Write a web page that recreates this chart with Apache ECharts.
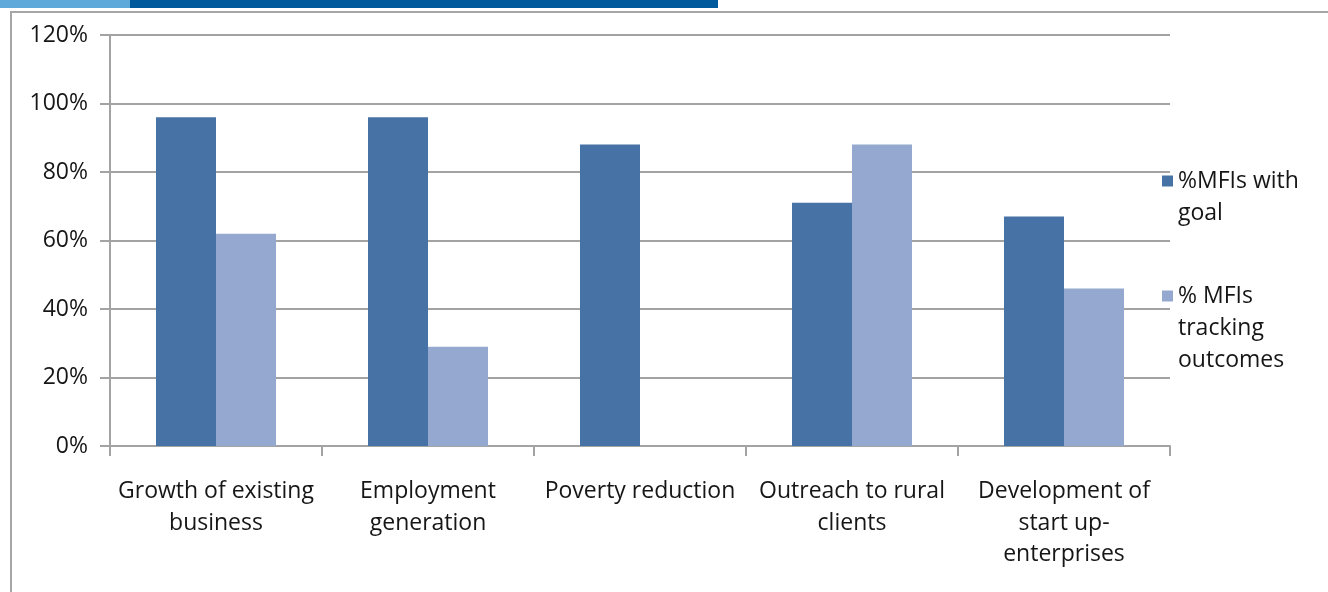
<!DOCTYPE html>
<html>
<head>
<meta charset="utf-8">
<script src="https://cdn.jsdelivr.net/npm/echarts@6/dist/echarts.min.js"></script>
<style>
  html, body { margin: 0; padding: 0; background: #ffffff; }
  #chart { width: 1328px; height: 592px; }
</style>
</head>
<body>
<div id="chart"></div>
<script>
// Development goals of MFIs and whether outcomes are tracked
const categories = [
  'Growth of existing\nbusiness',
  'Employment\ngeneration',
  'Poverty reduction',
  'Outreach to rural\nclients',
  'Development of\nstart up-\nenterprises'
];
const seriesNames = ['%MFIs with goal', '% MFIs tracking outcomes'];
const withGoal = [96, 96, 88, 71, 67];
const trackingOutcomes = [62, 29, 0, 88, 46];
const yTicks = { min: 0, max: 120, interval: 20 };

// Legend label lines (leading blank lines keep the swatch beside the first line)
const legendText = {
  '%MFIs with goal': '\n%MFIs with\ngoal',
  '% MFIs tracking outcomes': '\n\n% MFIs\ntracking\noutcomes'
};

const FONT = 'Open Sans';
const FONT_SIZE = 23;
const TEXT = '#161616';
const GRID = '#a3a3a3';
const DARK = '#4672a6';
const LIGHT = '#95a9d0';

const chart = echarts.init(document.getElementById('chart'), null, { renderer: 'canvas' });

const legendCommon = {
  orient: 'vertical',
  left: 1162,
  padding: 0,
  icon: 'rect',
  itemWidth: 11,
  itemHeight: 11,
  selectedMode: false,
  textStyle: { fontFamily: FONT, fontSize: FONT_SIZE, color: TEXT, lineHeight: 32 },
  formatter: name => legendText[name]
};

chart.setOption({
  animation: false,
  backgroundColor: '#ffffff',
  textStyle: { fontFamily: FONT },
  graphic: [
    { type: 'rect', shape: { x: 0, y: 0, width: 130, height: 8 }, style: { fill: '#5ea9da' }, silent: true },
    { type: 'rect', shape: { x: 130, y: 0, width: 588, height: 8 }, style: { fill: '#005a9c' }, silent: true },
    { type: 'polyline', shape: { points: [[11, 600], [11, 12], [1340, 12]] },
      style: { stroke: '#a6a6a6', lineWidth: 2, fill: null }, silent: true }
  ],
  legend: [
    Object.assign({}, legendCommon, { top: 133, data: [seriesNames[0]] }),
    Object.assign({}, legendCommon, { top: 216, data: [seriesNames[1]] })
  ],
  grid: { left: 110, right: 158, top: 35, bottom: 146, containLabel: false },
  xAxis: {
    type: 'category',
    data: categories,
    axisLine: { show: true, lineStyle: { color: GRID, width: 2 } },
    axisTick: { show: true, alignWithLabel: false, length: 10, lineStyle: { color: GRID, width: 2 } },
    axisLabel: {
      interval: 0,
      margin: 30,
      fontFamily: FONT,
      fontSize: FONT_SIZE,
      color: TEXT,
      lineHeight: 31.5,
      align: 'center'
    },
    splitLine: { show: false }
  },
  yAxis: {
    type: 'value',
    min: yTicks.min,
    max: yTicks.max,
    interval: yTicks.interval,
    axisLine: { show: true, lineStyle: { color: GRID, width: 2 } },
    axisTick: { show: true, length: 10, lineStyle: { color: GRID, width: 2 } },
    axisLabel: {
      formatter: '{value}%',
      margin: 22,
      fontFamily: FONT,
      fontSize: FONT_SIZE,
      color: TEXT
    },
    splitLine: { show: true, lineStyle: { color: GRID, width: 2 } }
  },
  series: [
    {
      name: seriesNames[0],
      type: 'bar',
      data: withGoal,
      barWidth: 60,
      barGap: '0%',
      itemStyle: { color: DARK }
    },
    {
      name: seriesNames[1],
      type: 'bar',
      data: trackingOutcomes,
      barWidth: 60,
      barGap: '0%',
      itemStyle: { color: LIGHT }
    }
  ]
});
</script>
</body>
</html>
